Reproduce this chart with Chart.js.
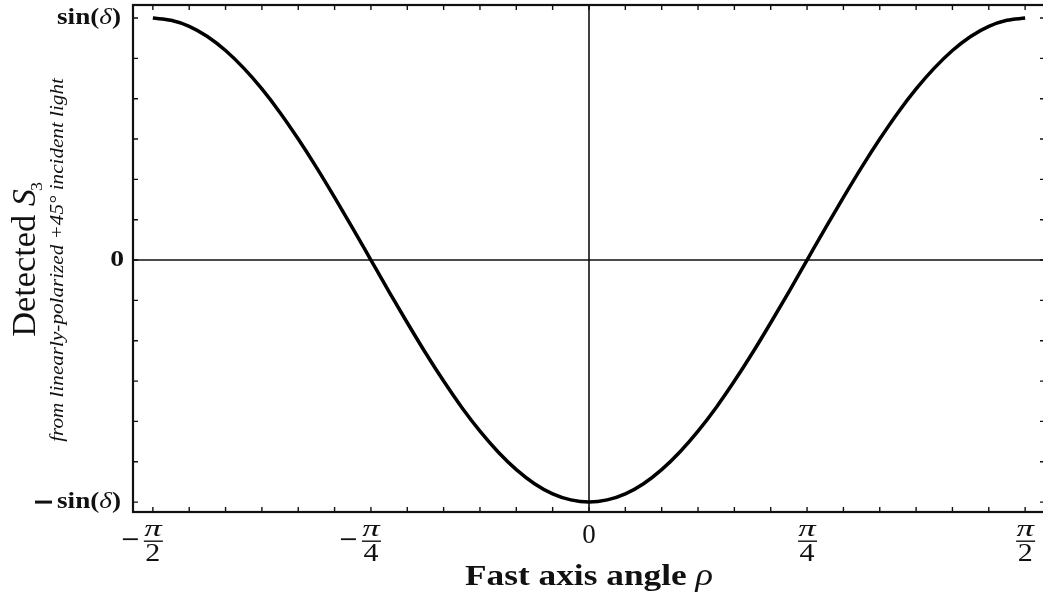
<!DOCTYPE html>
<html>
<head>
<meta charset="utf-8">
<script src="https://cdn.jsdelivr.net/npm/chart.js@4/dist/chart.umd.min.js"></script>
<style>
  html, body { margin:0; padding:0; background:#fff; overflow:hidden; }
  #wrap { position:relative; width:1047px; height:599px; }
</style>
</head>
<body>
<div id="wrap"><canvas id="grafico"></canvas></div>
<script>
// fast axis angle rho, in degrees (-pi/2 .. pi/2)
const rhoDeg = [-90, -86.25, -82.5, -78.75, -75, -71.25, -67.5, -63.75, -60, -56.25, -52.5, -48.75,
                -45, -41.25, -37.5, -33.75, -30, -26.25, -22.5, -18.75, -15, -11.25, -7.5, -3.75,
                0, 3.75, 7.5, 11.25, 15, 18.75, 22.5, 26.25, 30, 33.75, 37.5, 41.25,
                45, 48.75, 52.5, 56.25, 60, 63.75, 67.5, 71.25, 75, 78.75, 82.5, 86.25, 90];
// detected S3, in units of sin(delta)
const detectedS3 = [1.000, 0.991, 0.966, 0.924, 0.866, 0.793, 0.707, 0.609, 0.500, 0.383, 0.259, 0.131,
                    0.000, -0.131, -0.259, -0.383, -0.500, -0.609, -0.707, -0.793, -0.866, -0.924, -0.966, -0.991,
                    -1.000, -0.991, -0.966, -0.924, -0.866, -0.793, -0.707, -0.609, -0.500, -0.383, -0.259, -0.131,
                    0.000, 0.131, 0.259, 0.383, 0.500, 0.609, 0.707, 0.793, 0.866, 0.924, 0.966, 0.991, 1.000];

const xTickValues = [-90, -45, 0, 45, 90];
const xTickLabels = ['−π/2', '−π/4', '0', 'π/4', 'π/2'];
const yTickValues = [1, 0, -1];
const yTickLabels = ['sin(δ)', '0', '−sin(δ)'];
const xMinorStep = 7.5;
const yMinorStep = 1/6;

const serif = '"Liberation Serif", "DejaVu Serif", serif';

function partsWidth(ctx, parts){
    let total = 0;
    parts.forEach(p => { ctx.font = p[1]; total += ctx.measureText(p[0]).width; });
    return total;
}

function drawParts(ctx, parts, x, y, align){
    const total = partsWidth(ctx, parts);
    let cx = align === 'right' ? x - total : (align === 'center' ? x - total/2 : x);
    ctx.textAlign = 'left';
    parts.forEach(p => {
        ctx.font = p[1];
        ctx.fillText(p[0], cx, y + (p[2] || 0));
        cx += ctx.measureText(p[0]).width + (p[3] || 0);
    });
}

// text stretched horizontally on screen by sx (rot: rotated -90deg)
function drawScaled(ctx, parts, x, y, align, sx, rot){
    ctx.save();
    ctx.translate(x, y);
    ctx.scale(sx, 1);
    if (rot) ctx.rotate(-Math.PI/2);
    drawParts(ctx, parts, 0, 0, align);
    ctx.restore();
}

const marcoPlugin = {
    id: 'marco',
    beforeDatasetsDraw(chart){
        const ctx = chart.ctx;
        const a = chart.chartArea;
        const xs = chart.scales.x, ys = chart.scales.y;
        ctx.save();
        ctx.strokeStyle = '#111';
        // zero lines
        ctx.lineWidth = 1.6;
        ctx.beginPath();
        ctx.moveTo(xs.getPixelForValue(0), a.top);
        ctx.lineTo(xs.getPixelForValue(0), a.bottom);
        ctx.moveTo(a.left, ys.getPixelForValue(0));
        ctx.lineTo(a.right, ys.getPixelForValue(0));
        ctx.stroke();
        // frame
        ctx.lineWidth = 2.2;
        ctx.strokeRect(a.left, a.top, a.right - a.left, a.bottom - a.top);
        // inward ticks
        ctx.lineWidth = 1.4;
        ctx.beginPath();
        for (let v = -90; v <= 90.01; v += xMinorStep){
            const px = xs.getPixelForValue(v);
            ctx.moveTo(px, a.bottom); ctx.lineTo(px, a.bottom - 5);
            ctx.moveTo(px, a.top); ctx.lineTo(px, a.top + 5);
        }
        for (let k = -6; k <= 6; k++){
            const py = ys.getPixelForValue(k * yMinorStep);
            ctx.moveTo(a.left, py); ctx.lineTo(a.left + 5, py);
            ctx.moveTo(a.right, py); ctx.lineTo(a.right - 5, py);
        }
        ctx.stroke();
        ctx.restore();
    },
    afterDraw(chart){
        const ctx = chart.ctx;
        const a = chart.chartArea;
        const xs = chart.scales.x, ys = chart.scales.y;
        ctx.save();
        ctx.fillStyle = '#111';
        ctx.strokeStyle = '#111';
        ctx.textBaseline = 'middle';
        // y tick labels
        const b = 'bold 23px ' + serif, it = 'italic 23px ' + serif;
        yTickValues.forEach((v, i) => {
            const py = ys.getPixelForValue(v);
            const lab = yTickLabels[i];
            if (lab === '0'){
                drawScaled(ctx, [['0', 'bold 24px ' + serif]], 124, py, 'right', 1.15);
                return;
            }
            const parts = [['sin(', b], ['δ', it], [')', b]];
            const sx = 64 / partsWidth(ctx, parts);
            drawScaled(ctx, parts, 121, py, 'right', sx);
            if (lab[0] === '−'){
                ctx.fillRect(35, py - 1.5, 17, 3);
            }
        });
        // x tick labels (fractions)
        xTickValues.forEach((v, i) => {
            const px = xs.getPixelForValue(v);
            const lab = xTickLabels[i];
            if (lab === '0'){
                drawScaled(ctx, [['0', '27px ' + serif]], px, 536, 'center', 1.0);
                return;
            }
            const neg = lab[0] === '−';
            const den = lab.split('/')[1];
            drawScaled(ctx, [['π', 'italic 24px ' + serif]], px, 530, 'center', 1.45);
            drawScaled(ctx, [[den, '25px ' + serif]], px, 554, 'center', 1.2);
            ctx.fillRect(px - 9, 540.5, 19, 1.4);
            if (neg){
                ctx.fillRect(px - 30, 538.3, 15, 1.8);
            }
        });
        // x title
        ctx.textBaseline = 'alphabetic';
        const tParts = [['Fast axis angle ', 'bold 30px ' + serif], ['ρ', 'italic 31px ' + serif]];
        drawScaled(ctx, tParts, (a.left + a.right)/2, 585, 'center', 248 / partsWidth(ctx, tParts));
        // y title
        const cy = (a.top + a.bottom)/2;
        let yParts = [['Detected ', '30px ' + serif], ['S', 'italic 30px ' + serif, 0, -2], ['3', '16px ' + serif, 6]];
        const f = 30 * 157 / partsWidth(ctx, yParts);
        yParts = [['Detected ', f + 'px ' + serif], ['S', 'italic ' + f + 'px ' + serif, 0, -2], ['3', (f*0.52) + 'px ' + serif, f*0.2]];
        drawScaled(ctx, yParts, 35, cy, 'center', 22 / (0.66 * f), true);
        // y subtitle
        const sParts = [['from linearly-polarized +45° incident light', 'italic 16px ' + serif]];
        const fs = 16 * 364 / partsWidth(ctx, sParts);
        const sParts2 = [['from linearly-polarized +45° incident light', 'italic ' + fs + 'px ' + serif]];
        drawScaled(ctx, sParts2, 63, 260, 'center', 13 / (0.68 * fs), true);
        ctx.restore();
    }
};

const puntos = rhoDeg.map((r, i) => ({x: r, y: detectedS3[i]}));

new Chart(document.getElementById('grafico').getContext('2d'), {
    type: 'line',
    data: {
        datasets: [{
            data: puntos,
            borderColor: '#000',
            borderWidth: 3.5,
            pointRadius: 0,
            cubicInterpolationMode: 'monotone',
            fill: false
        }]
    },
    options: {
        responsive: true,
        maintainAspectRatio: false,
        animation: false,
        layout: { padding: { left: 133, top: 5, right: 2, bottom: 87 } },
        plugins: { legend: { display: false }, tooltip: { enabled: false } },
        scales: {
            x: { type: 'linear', min: -94.1, max: 94.1, display: false },
            y: { type: 'linear', min: -1.041, max: 1.054, display: false }
        }
    },
    plugins: [marcoPlugin]
});
</script>
</body>
</html>
